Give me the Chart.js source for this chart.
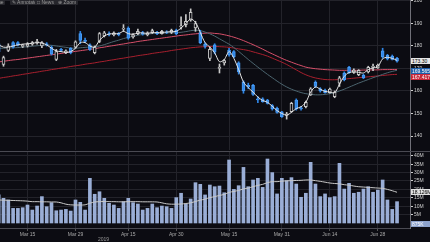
<!DOCTYPE html>
<html>
<head>
<meta charset="utf-8">
<script src="https://cdn.jsdelivr.net/npm/chart.js@4.4.1/dist/chart.umd.min.js"></script>
<style>
  body { margin: 0; background: #0c0c12; width: 430px; height: 242px; overflow: hidden; position: relative; font-family: "Liberation Sans", Arial, sans-serif; }
  canvas { position: absolute; left: 0; }
  #priceChart { top: 0; }
  #volumeChart { top: 151px; }
  .sep { position: absolute; left: 0; top: 151px; width: 430px; height: 1px; background: #4a4a52; }
  .btn { position: absolute; top: -1px; height: 6px; line-height: 6px; font-size: 5px; color: #9a9a9a; background: #26262c; border-radius: 1px; padding: 0 2px; }
  .tag { position: absolute; left: 411px; width: 18px; height: 6px; font-size: 5px; line-height: 6px; padding-left: 1px; white-space: nowrap; overflow: hidden; }
  .year { position: absolute; left: 98px; top: 236px; font-size: 5px; color: #9a9a9a; }
</style>
</head>
<body>
<canvas id="priceChart" width="430" height="151"></canvas>
<canvas id="volumeChart" width="430" height="91"></canvas>
<div class="sep"></div>
<div class="btn" style="left:-8px">Line</div>
<div class="btn" style="left:10px">&#9998; Annotate</div>
<div class="btn" style="left:35px">&#9633; News</div>
<div class="btn" style="left:56px">&#8853; Zoom</div>
<div class="tag" style="top:58px;background:#e6e6e6;color:#000">173.30</div>
<div class="tag" style="top:68px;background:#1f5faa;color:#fff">169.565</div>
<div class="tag" style="top:74px;background:#c8283a;color:#fff">167.417</div>
<div class="tag" style="top:189px;background:#e0e0e0;color:#000">18.126M</div>
<div class="tag" style="top:221px;background:#8da2cc;color:#fff">875K</div>
<div class="year">2019</div>
<script>
// trading days shown
const days = [
  "2019-03-07","2019-03-08","2019-03-11","2019-03-12","2019-03-13","2019-03-14","2019-03-15","2019-03-18","2019-03-19","2019-03-20",
  "2019-03-21","2019-03-22","2019-03-25","2019-03-26","2019-03-27","2019-03-28","2019-03-29","2019-04-01","2019-04-02","2019-04-03",
  "2019-04-04","2019-04-05","2019-04-08","2019-04-09","2019-04-10","2019-04-11","2019-04-12","2019-04-15","2019-04-16","2019-04-17",
  "2019-04-18","2019-04-22","2019-04-23","2019-04-24","2019-04-25","2019-04-26","2019-04-29","2019-04-30","2019-05-01","2019-05-02",
  "2019-05-03","2019-05-06","2019-05-07","2019-05-08","2019-05-09","2019-05-10","2019-05-13","2019-05-14","2019-05-15","2019-05-16",
  "2019-05-17","2019-05-20","2019-05-21","2019-05-22","2019-05-23","2019-05-24","2019-05-28","2019-05-29","2019-05-30","2019-05-31",
  "2019-06-03","2019-06-04","2019-06-05","2019-06-06","2019-06-07","2019-06-10","2019-06-11","2019-06-12","2019-06-13","2019-06-14",
  "2019-06-17","2019-06-18","2019-06-19","2019-06-20","2019-06-21","2019-06-24","2019-06-25","2019-06-26","2019-06-27","2019-06-28",
  "2019-07-01","2019-07-02","2019-07-03","2019-07-05"
];

const opens = [
  181,171.8,178,181.5,181.5,179.8,180,180.8,181.5,180,
  181,179.5,174,178.5,177,179,179.5,185.5,182.5,180.5,
  177,182,184.5,185.5,185,185.5,187.5,188,184,185.5,
  186,185,186.3,186,185.5,186.2,186,187,188.5,189.5,
  191.5,188,186,180.8,174.5,180.5,170,172.5,178.2,177.5,
  172.5,164,162.5,162.5,156.5,156.5,156,153.5,152.3,150.7,
  149.2,150.8,156,152.5,153,158.3,163.8,161,160.3,159.3,
  157.5,163.5,168,170.5,168.3,167.3,167,168.5,170.5,170.3,
  177.8,175.8,175.5,174.5
];
const highs = [
  182,175.5,181,182,182,180.8,181.5,182,183,182,
  181.5,180,178.5,179,178.3,179.3,182.3,186.5,183.5,181,
  180,186,186.5,186.3,186.3,186,189.5,188.5,185.5,187.5,
  186.5,186.3,187.5,186.5,187,186.8,187.5,187.5,193,194,
  196.5,191,187,181.5,179.5,181,172,174,179,178,
  173,164.5,163.5,163,157.5,157,156.3,154,152.8,151,
  150.5,155,156.5,153.2,155.5,161.5,164.5,161.5,160.8,161.3,
  160,166.5,168.5,171,169.8,169.5,167.5,171,172,172,
  179,176.3,176,175
];
const lows = [
  176.8,171,177.5,179,180,179.3,179.5,180.3,180.8,179.3,
  180,176,173.5,177.5,176.6,176.5,179,181,181.5,178,
  176.5,181.5,184,184.5,184.5,184.5,186.5,183,183.5,185,
  184.8,184.5,185.5,185,185.2,185.5,185.5,185,187.5,188.5,
  191,186.5,181,179,173.5,176.5,168,171.5,175.5,174.8,
  167.5,159,161,158,154.8,155,154.2,151.5,150.2,148.3,
  147.5,150.5,151.5,151.5,152.5,158,161.5,159.5,159,159,
  157,162,164.5,167.8,167.8,166.8,165.5,168,169,170,
  174.5,173.8,173.8,172.8
];
const closes = [
  177.5,174.8,180,179.5,180.5,180.3,180.8,181.5,182,181.5,
  180.5,176.5,177.5,178,177.8,177,181.8,182.5,182,178.5,
  179.5,185.5,185.8,185.2,185.8,185,188,183.5,185,186.5,
  185.3,185.8,186.8,185.5,186.5,186,187,185.5,189,191,
  195,190,181.5,179.8,178.5,177.3,170.6,173.5,176,175.3,
  168.5,160,161.8,158.5,156,155.3,154.5,152,150.5,148.6,
  149.7,154.5,152,152,155,161,162,160,159.3,160.8,
  159.5,165.8,165,168.2,169.3,169.2,165.8,170.5,171,171.5,
  175.2,174.3,174,173.3
];

// white short average line
const avgLine = [
  180.5,179.5,179.5,180,180.5,180.8,181,181.2,181.5,181.3,
  180.5,179,177.8,177.5,177.2,177.5,179,181.5,181.5,180,
  179.5,182.5,184.5,185.3,185.5,185.5,186.5,185.5,185.2,185.8,
  185.8,185.6,186,185.9,186,186.2,186.4,186.5,188,190,
  192,190.5,186,181.5,179.5,177,173,174,177.5,174.5,
  169.5,164,161.5,159.5,157.3,155.8,155,153.2,151.3,150,
  149.3,150.5,152.2,153,155,159.5,161.8,160.8,159.8,159.6,
  159.2,163,166.5,168.2,168.5,168.3,168,169.5,170.3,170.8,
  174.3,175,174.5,173.6
];
// grey-teal moving average
const maFast = [
  179.0,179.0,179.1,179.2,179.3,179.5,179.7,179.9,180.1,180.3,
  180.4,180.3,180.0,179.7,179.4,179.1,179.0,179.2,179.4,179.5,
  179.6,180.0,180.6,181.3,182.0,182.6,183.3,183.8,184.3,184.8,
  185.1,185.3,185.5,185.6,185.7,185.8,185.9,185.9,186.1,186.4,
  186.8,187.0,186.8,186.2,185.4,184.4,183.2,182.0,180.8,179.3,
  177.6,175.8,174.0,172.3,170.6,169.0,167.4,165.9,164.4,163.0,
  161.8,160.8,160.0,159.3,158.8,158.5,158.3,158.3,158.5,158.8,
  159.3,160.0,160.8,161.7,162.6,163.5,164.3,165.1,165.9,166.6,
  167.4,168.1,168.7,169.2
];
// red moving averages
const maMid = [
  172.9,173.2,173.5,173.8,174.0,174.3,174.6,174.9,175.2,175.5,
  175.8,176.1,176.4,176.7,177.0,177.3,177.6,177.9,178.2,178.5,
  178.8,179.2,179.5,179.9,180.2,180.6,180.9,181.3,181.6,182.0,
  182.3,182.6,182.9,183.2,183.5,183.8,184.1,184.4,184.7,184.9,
  185.2,185.4,185.6,185.7,185.8,185.6,185.4,185.0,184.5,183.9,
  183.2,182.4,181.5,180.6,179.6,178.6,177.5,176.5,175.5,174.5,
  173.6,172.8,172.0,171.3,170.6,170.2,169.9,169.7,169.5,169.4,
  169.3,169.2,169.2,169.2,169.2,169.2,169.3,169.3,169.4,169.4,
  169.5,169.5,169.55,169.57
];
const maSlow = [
  165.6,166.0,166.3,166.7,167.0,167.4,167.7,168.1,168.4,168.8,
  169.1,169.5,169.8,170.2,170.5,170.9,171.2,171.5,171.9,172.2,
  172.5,172.9,173.2,173.6,173.9,174.3,174.6,175.0,175.3,175.7,
  176.0,176.3,176.7,177.0,177.3,177.6,178.0,178.3,178.6,178.9,
  179.2,179.4,179.6,179.7,179.8,179.8,179.7,179.6,179.4,179.1,
  178.7,178.4,178.0,177.4,176.8,176.2,175.5,174.6,173.7,172.8,
  171.8,170.6,169.4,168.2,167.2,166.4,165.8,165.4,165.1,165.0,
  165.0,165.1,165.3,165.5,165.7,165.9,166.1,166.3,166.5,166.7,
  166.9,167.1,167.3,167.4
];

// volume in millions
const volumes = [
  16.7,14.7,13.7,8.7,8.7,9.1,10.7,7.7,10.1,15.7,
  9.7,12.1,7.3,7.7,8.1,7.1,13.7,12.3,7.7,26.6,
  17.1,18.6,14.7,11.7,10.7,8.7,12.7,14.7,12.1,11.3,
  7.7,8.7,11.3,9.1,10.1,9.7,8.7,15.1,17.7,11.3,
  14.3,24,23,16.7,22.6,21.6,22,18,37.5,20,
  22.2,33.1,21.6,25.6,26.6,21.2,38.1,30,17.3,26.6,
  25.2,27,23.2,15.3,17.7,36.1,23.2,15.7,17.3,15.1,
  15.7,35.5,20.2,23.6,17.7,18.3,20.2,21.6,18.3,19.6,
  25.6,13.7,8.1,12.7
];
const volumeAvg = [
  13.7,13.6,13.5,13.4,13.3,13.2,13.0,12.7,12.7,12.6,
  12.6,12.5,12.5,12.0,11.2,10.8,10.7,10.7,10.8,11.8,
  12.5,12.7,12.8,12.7,12.7,12.6,12.6,12.7,12.7,12.7,
  12.6,12.6,12.6,12.5,12.0,11.4,11.2,11.2,11.3,11.6,
  12.0,12.8,13.6,14.2,15.1,15.7,16.4,17.0,18.2,18.8,
  19.4,20.3,20.8,21.6,22.4,23.0,24.0,24.6,24.6,24.9,
  25.1,25.2,25.3,25.4,25.6,25.6,25.2,24.8,24.3,23.8,
  23.5,23.3,22.8,22.5,22.0,21.6,21.4,21.2,21.0,20.8,
  20.6,20.0,19.2,18.3
];

const priceTicks = [140, 150, 160, 170, 180, 190, 200];
const volumeTicks = [5, 10, 15, 20, 25, 30, 35, 40];
const dateTicks = ["2019-03-15","2019-03-29","2019-04-15","2019-04-30","2019-05-15","2019-05-31","2019-06-14","2019-06-28"];
const dateTickLabels = ["Mar 15","Mar 29","Apr 15","Apr 30","May 15","May 31","Jun 14","Jun 28"];

const BG = "#0c0c12";
const GRID = "#23232a";
const UP = "#c8c8c8";
const DOWN = "#2f86e6";

function pts(arr) {
  return arr.map((v, i) => ({ x: i, y: v }));
}

function dateScale(showLabels) {
  return {
    type: "linear",
    min: 0.27,
    max: 85.7,
    offset: false,
    afterBuildTicks: (s) => {
      s.ticks = dateTicks.map((d) => ({ value: days.indexOf(d) }));
    },
    afterFit: (s) => {
      s.height = showLabels ? 14 : 0;
      s.paddingLeft = 0;
      s.paddingRight = 0;
    },
    grid: { color: GRID, offset: false, drawTicks: showLabels, tickLength: 3, tickColor: "#555" },
    border: { display: showLabels, color: "#4a4a52" },
    ticks: {
      display: showLabels,
      color: "#a8a8a8",
      font: { size: 5, family: "Liberation Sans" },
      padding: 1,
      maxRotation: 0,
      autoSkip: false,
      callback: (v) => dateTickLabels[dateTicks.indexOf(days[v])],
    },
  };
}

function valueScale(min, max, tickList, fmt) {
  return {
    position: "right",
    min: min,
    max: max,
    afterBuildTicks: (s) => {
      s.ticks = tickList.map((v) => ({ value: v }));
    },
    afterFit: (s) => {
      s.width = 20;
      s.paddingTop = 0;
      s.paddingBottom = 0;
    },
    grid: { color: GRID, tickLength: 3, tickColor: "#cfcfcf" },
    border: { color: "#707078" },
    ticks: { color: "#cfcfcf", font: { size: 5, family: "Liberation Sans" }, padding: 1, callback: fmt },
  };
}

// Price panel
let priceCtx = document.getElementById("priceChart").getContext("2d");
let priceChart = new Chart(priceCtx, {
  data: {
    datasets: [
      {
        type: "line", data: pts(maSlow), borderColor: "#a8202e", borderWidth: 1,
        pointRadius: 0, tension: 0.3, order: 10,
      },
      {
        type: "line", data: pts(maMid), borderColor: "#d8506a", borderWidth: 1,
        pointRadius: 0, tension: 0.3, order: 10,
      },
      {
        type: "line", data: pts(maFast), borderColor: "#4d6670", borderWidth: 1,
        pointRadius: 0, tension: 0.3, order: 9,
      },
      {
        type: "bar",
        data: days.map((d, i) => ({ x: i, y: [lows[i], highs[i]] })),
        backgroundColor: closes.map((c, i) => (c >= opens[i] ? UP : DOWN)),
        barThickness: 1, grouped: false, order: 8,
      },
      {
        type: "bar",
        data: days.map((d, i) => ({ x: i, y: [opens[i], closes[i]] })),
        backgroundColor: closes.map((c, i) => (c >= opens[i] ? BG : DOWN)),
        borderColor: closes.map((c, i) => (c >= opens[i] ? UP : "#4a9cf5")),
        borderWidth: 1, borderSkipped: false, barThickness: 3, grouped: false, order: 7,
      },
      {
        type: "line", data: pts(avgLine), borderColor: "#e4e4e4", borderWidth: 1,
        pointRadius: 0, tension: 0.3, order: 1,
      },
    ],
  },
  options: {
    responsive: false,
    animation: false,
    layout: { padding: { top: 0, bottom: 1, left: 0, right: 0 } },
    plugins: { legend: { display: false }, tooltip: { enabled: false } },
    scales: {
      x: dateScale(false),
      y: valueScale(133.78, 200.44, priceTicks, (v) => v),
    },
  },
});

// Volume panel
let volumeCtx = document.getElementById("volumeChart").getContext("2d");
let volumeChart = new Chart(volumeCtx, {
  data: {
    datasets: [
      {
        type: "line", data: pts(volumeAvg), borderColor: "#c9c9c9", borderWidth: 1,
        pointRadius: 0, tension: 0.3, order: 1,
      },
      {
        type: "bar", data: pts(volumes), backgroundColor: "#9aaed6",
        barThickness: 3, order: 2,
      },
    ],
  },
  options: {
    responsive: false,
    animation: false,
    layout: { padding: { top: 1, bottom: 0, left: 0, right: 0 } },
    plugins: { legend: { display: false }, tooltip: { enabled: false } },
    scales: {
      x: dateScale(true),
      y: valueScale(-2.98, 42.26, volumeTicks, (v) => v + "M"),
    },
  },
});
</script>
</body>
</html>
